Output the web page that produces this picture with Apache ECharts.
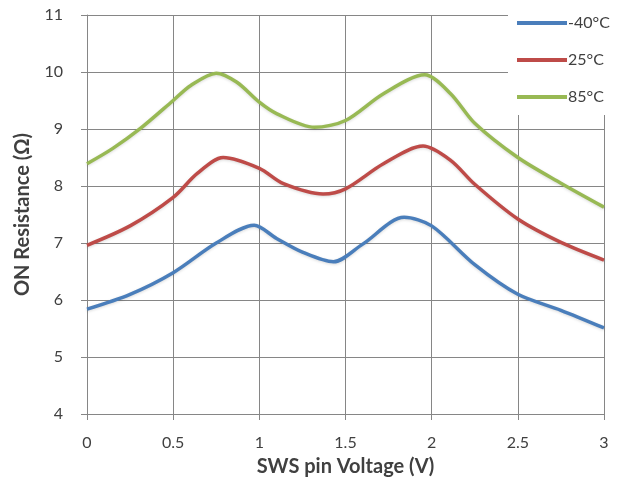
<!DOCTYPE html>
<html>
<head>
<meta charset="utf-8">
<script src="https://cdn.jsdelivr.net/npm/echarts@6/dist/echarts.min.js"></script>
<style>html,body{margin:0;padding:0;background:#fff}#c{width:623px;height:488px}</style>
</head>
<body>
<div id="c"></div>
<script>
const vMinus40 = [0, 0.25, 0.5, 0.75, 0.97, 1.1, 1.25, 1.43, 1.6, 1.84, 2.0, 2.25, 2.5, 2.75, 3.0];
const rMinus40 = [5.84, 6.10, 6.48, 7.00, 7.31, 7.08, 6.84, 6.67, 6.98, 7.45, 7.30, 6.62, 6.10, 5.82, 5.51];
const v25 = [0, 0.25, 0.5, 0.64, 0.79, 1.0, 1.14, 1.37, 1.5, 1.72, 1.95, 2.11, 2.25, 2.5, 2.75, 3.0];
const r25 = [6.96, 7.30, 7.80, 8.22, 8.50, 8.31, 8.04, 7.86, 7.95, 8.39, 8.70, 8.45, 8.03, 7.42, 7.01, 6.70];
const v85 = [0, 0.15, 0.31, 0.5, 0.6, 0.75, 0.87, 1.0, 1.1, 1.32, 1.5, 1.72, 1.96, 2.11, 2.25, 2.5, 2.75, 3.0];
const r85 = [8.39, 8.66, 9.01, 9.50, 9.76, 9.98, 9.82, 9.47, 9.27, 9.03, 9.15, 9.62, 9.95, 9.62, 9.10, 8.50, 8.05, 7.63];
const seriesNames = ['-40°C', '25°C', '85°C'];
const seriesColors = ['#4a7ebb', '#be4b48', '#98b954'];
const xTitle = 'SWS pin Voltage (V)';
const yTitle = 'ON Resistance (Ω)';

const pair = (xs, ys) => xs.map((v, i) => [v, ys[i]]);
const allData = [pair(vMinus40, rMinus40), pair(v25, r25), pair(v85, r85)];
const font = 'Lato, "Open Sans", sans-serif';
const gridColor = '#868686';
const textColor = '#404040';

const chart = echarts.init(document.getElementById('c'), null, {renderer: 'canvas'});
chart.setOption({
  animation: false,
  backgroundColor: '#fff',
  grid: {left: 87, right: 19, top: 15, bottom: 74, containLabel: false},
  legend: {
    orient: 'vertical',
    left: 508, top: 0,
    padding: [15, 30, 10, 9],
    backgroundColor: '#fff',
    itemWidth: 50, itemHeight: 4,
    itemGap: 21,
    icon: 'rect',
    textStyle: {fontFamily: font, fontSize: 16, color: textColor, padding: [0, 0, 0, -4]},
    data: seriesNames
  },
  xAxis: {
    type: 'value', min: 0, max: 3, interval: 0.5,
    name: xTitle, nameLocation: 'middle', nameGap: 43,
    nameTextStyle: {fontFamily: font, fontSize: 20, fontWeight: 'bold', color: textColor},
    axisLine: {show: true, lineStyle: {color: gridColor, width: 1}},
    axisTick: {show: true, length: 6, lineStyle: {color: gridColor}},
    axisLabel: {fontFamily: font, fontSize: 16, color: textColor, margin: 21},
    splitLine: {show: true, lineStyle: {color: gridColor, width: 1}}
  },
  yAxis: {
    type: 'value', min: 4, max: 11, interval: 1,
    name: yTitle, nameLocation: 'middle', nameGap: 54, nameRotate: 90,
    nameTextStyle: {fontFamily: font, fontSize: 20, fontWeight: 'bold', color: textColor},
    axisLine: {show: true, lineStyle: {color: gridColor, width: 1}},
    axisTick: {show: true, length: 6, lineStyle: {color: gridColor}},
    axisLabel: {fontFamily: font, fontSize: 16, color: textColor, margin: 24},
    splitLine: {show: true, lineStyle: {color: gridColor, width: 1}}
  },
  series: allData.map((d, i) => ({
    name: seriesNames[i],
    type: 'line',
    smooth: 0.3,
    showSymbol: false,
    symbol: 'none',
    color: seriesColors[i],
    lineStyle: {width: 3.5, color: seriesColors[i], shadowColor: 'rgba(0,0,0,0.15)', shadowBlur: 3, shadowOffsetY: 1},
    data: d
  }))
});
</script>
</body>
</html>
